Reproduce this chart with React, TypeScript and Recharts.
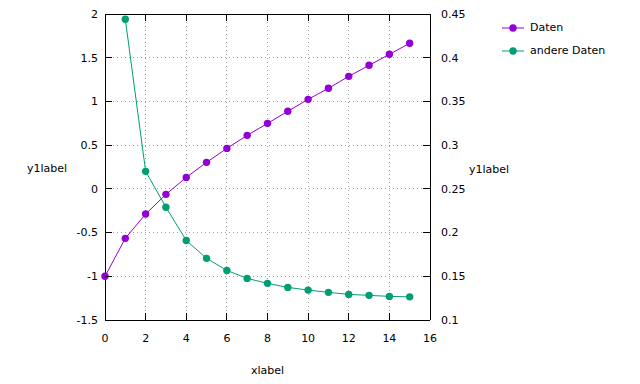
import React from 'react';
import { LineChart, Line, XAxis, YAxis, CartesianGrid, ReferenceLine, Legend } from 'recharts';

// ---- data ----
const xValues = [0, 1, 2, 3, 4, 5, 6, 7, 8, 9, 10, 11, 12, 13, 14, 15];
const datenValues = [-1.0, -0.566, -0.288, -0.063, 0.131, 0.303, 0.463, 0.612, 0.749, 0.887, 1.024, 1.15, 1.287, 1.413, 1.539, 1.665];
const andereDatenValues: (number | null)[] = [null, 0.444, 0.27, 0.229, 0.191, 0.1705, 0.1567, 0.1476, 0.1419, 0.1373, 0.1342, 0.1316, 0.1293, 0.1282, 0.127, 0.1265];
const xTicks = [0, 2, 4, 6, 8, 10, 12, 14, 16];
const y1Ticks = [-1.5, -1, -0.5, 0, 0.5, 1, 1.5, 2];
const y2Ticks = [0.1, 0.15, 0.2, 0.25, 0.3, 0.35, 0.4, 0.45];
const seriesNames = ['Daten', 'andere Daten'];
const seriesColors = ['#9400d3', '#009e73'];
const xLabel = 'xlabel';
const y1Label = 'y1label';
const y2Label = 'y1label';

const data = xValues.map((x, i) => ({ x, daten: datenValues[i], andere: andereDatenValues[i] }));

// ---- layout ----
const W = 632;
const H = 376;
const PLOT_TOP = 6;
const TICK_LEN = 7;
const FONT = "'DejaVu Sans', sans-serif";
const FS = 11;
const X_TM = 14;
const YL_TM = 7;
const YR_TM = 11;
const CRISP = 'crispEdges';

const BottomTick = (props: any) => {
  const { x, y, payload } = props;
  const axisY = y - X_TM;
  return (
    <g>
      <line x1={x} y1={axisY} x2={x} y2={axisY - TICK_LEN} stroke="#000" strokeWidth={1} shapeRendering={CRISP} />
      <line x1={x} y1={PLOT_TOP} x2={x} y2={PLOT_TOP + TICK_LEN} stroke="#000" strokeWidth={1} shapeRendering={CRISP} />
      <text x={x} y={y} dy="0.71em" textAnchor="middle" fill="#000" fontSize={FS} fontFamily={FONT}>
        {String(payload.value)}
      </text>
    </g>
  );
};

const LeftTick = (props: any) => {
  const { x, y, payload } = props;
  const axisX = x + YL_TM;
  return (
    <g>
      <line x1={axisX} y1={y} x2={axisX + TICK_LEN} y2={y} stroke="#000" strokeWidth={1} shapeRendering={CRISP} />
      <text x={x} y={y} dy="0.355em" textAnchor="end" fill="#000" fontSize={FS} fontFamily={FONT}>
        {String(payload.value)}
      </text>
    </g>
  );
};

const RightTick = (props: any) => {
  const { x, y, payload } = props;
  const axisX = x - YR_TM;
  return (
    <g>
      <line x1={axisX} y1={y} x2={axisX - TICK_LEN} y2={y} stroke="#000" strokeWidth={1} shapeRendering={CRISP} />
      <text x={x} y={y} dy="0.355em" textAnchor="start" fill="#000" fontSize={FS} fontFamily={FONT}>
        {String(payload.value)}
      </text>
    </g>
  );
};

const renderLegend = () => (
  <div style={{ fontFamily: FONT, fontSize: FS, color: '#000' }}>
    {seriesNames.map((name, i) => (
      <div key={name} style={{ display: 'flex', alignItems: 'center', height: 23 }}>
        <svg width={22} height={10} style={{ marginRight: 6, display: 'block' }}>
          <line x1={0} y1={5} x2={22} y2={5} stroke={seriesColors[i]} strokeWidth={1} />
          <circle cx={11} cy={5} r={3.7} fill={seriesColors[i]} />
        </svg>
        <span style={{ whiteSpace: 'nowrap' }}>{name}</span>
      </div>
    ))}
  </div>
);

export default function App() {
  return (
    <LineChart
      width={W}
      height={H}
      data={data}
      margin={{ top: PLOT_TOP, right: 150, bottom: 0, left: 0 }}
      style={{ fontFamily: FONT }}
    >
      <CartesianGrid yAxisId="left" stroke="#a0a0a0" strokeDasharray="1 3" shapeRendering={CRISP} />
      <XAxis
        dataKey="x"
        type="number"
        domain={[0, 16]}
        ticks={xTicks}
        height={64}
        tickSize={0}
        tickMargin={X_TM}
        tick={<BottomTick />}
        axisLine={{ stroke: '#000', shapeRendering: CRISP }}
        interval={0}
        label={{ value: xLabel, position: 'insideBottom', offset: 10, fill: '#000', fontSize: FS, fontFamily: FONT }}
      />
      <YAxis
        yAxisId="left"
        orientation="left"
        type="number"
        domain={[-1.5, 2]}
        ticks={y1Ticks}
        width={97}
        tickSize={0}
        tickMargin={YL_TM}
        tick={<LeftTick />}
        axisLine={{ stroke: '#000', shapeRendering: CRISP }}
        interval={0}
        label={{ value: y1Label, position: 'insideLeft', offset: 19, dy: 1, fill: '#000', fontSize: FS, fontFamily: FONT }}
      />
      <YAxis
        yAxisId="right"
        orientation="right"
        type="number"
        domain={[0.1, 0.45]}
        ticks={y2Ticks}
        width={60}
        tickSize={0}
        tickMargin={YR_TM}
        tick={<RightTick />}
        axisLine={{ stroke: '#000', shapeRendering: CRISP }}
        interval={0}
        label={{ value: y2Label, position: 'insideLeft', offset: 39, dy: 2, fill: '#000', fontSize: FS, fontFamily: FONT }}
      />
      <ReferenceLine yAxisId="left" y={2} stroke="#000" strokeWidth={1} shapeRendering={CRISP} />
      <Line
        yAxisId="left"
        dataKey="daten"
        name={seriesNames[0]}
        stroke={seriesColors[0]}
        strokeWidth={1}
        dot={{ r: 3.7, fill: seriesColors[0], stroke: 'none' }}
        activeDot={false}
        isAnimationActive={false}
      />
      <Line
        yAxisId="right"
        dataKey="andere"
        name={seriesNames[1]}
        stroke={seriesColors[1]}
        strokeWidth={1}
        dot={{ r: 3.7, fill: seriesColors[1], stroke: 'none' }}
        activeDot={false}
        isAnimationActive={false}
      />
      <Legend
        layout="vertical"
        align="center"
        verticalAlign="middle"
        content={renderLegend}
        wrapperStyle={{ position: 'absolute', left: 494, top: 8, width: 130, height: 46 }}
      />
    </LineChart>
  );
}
